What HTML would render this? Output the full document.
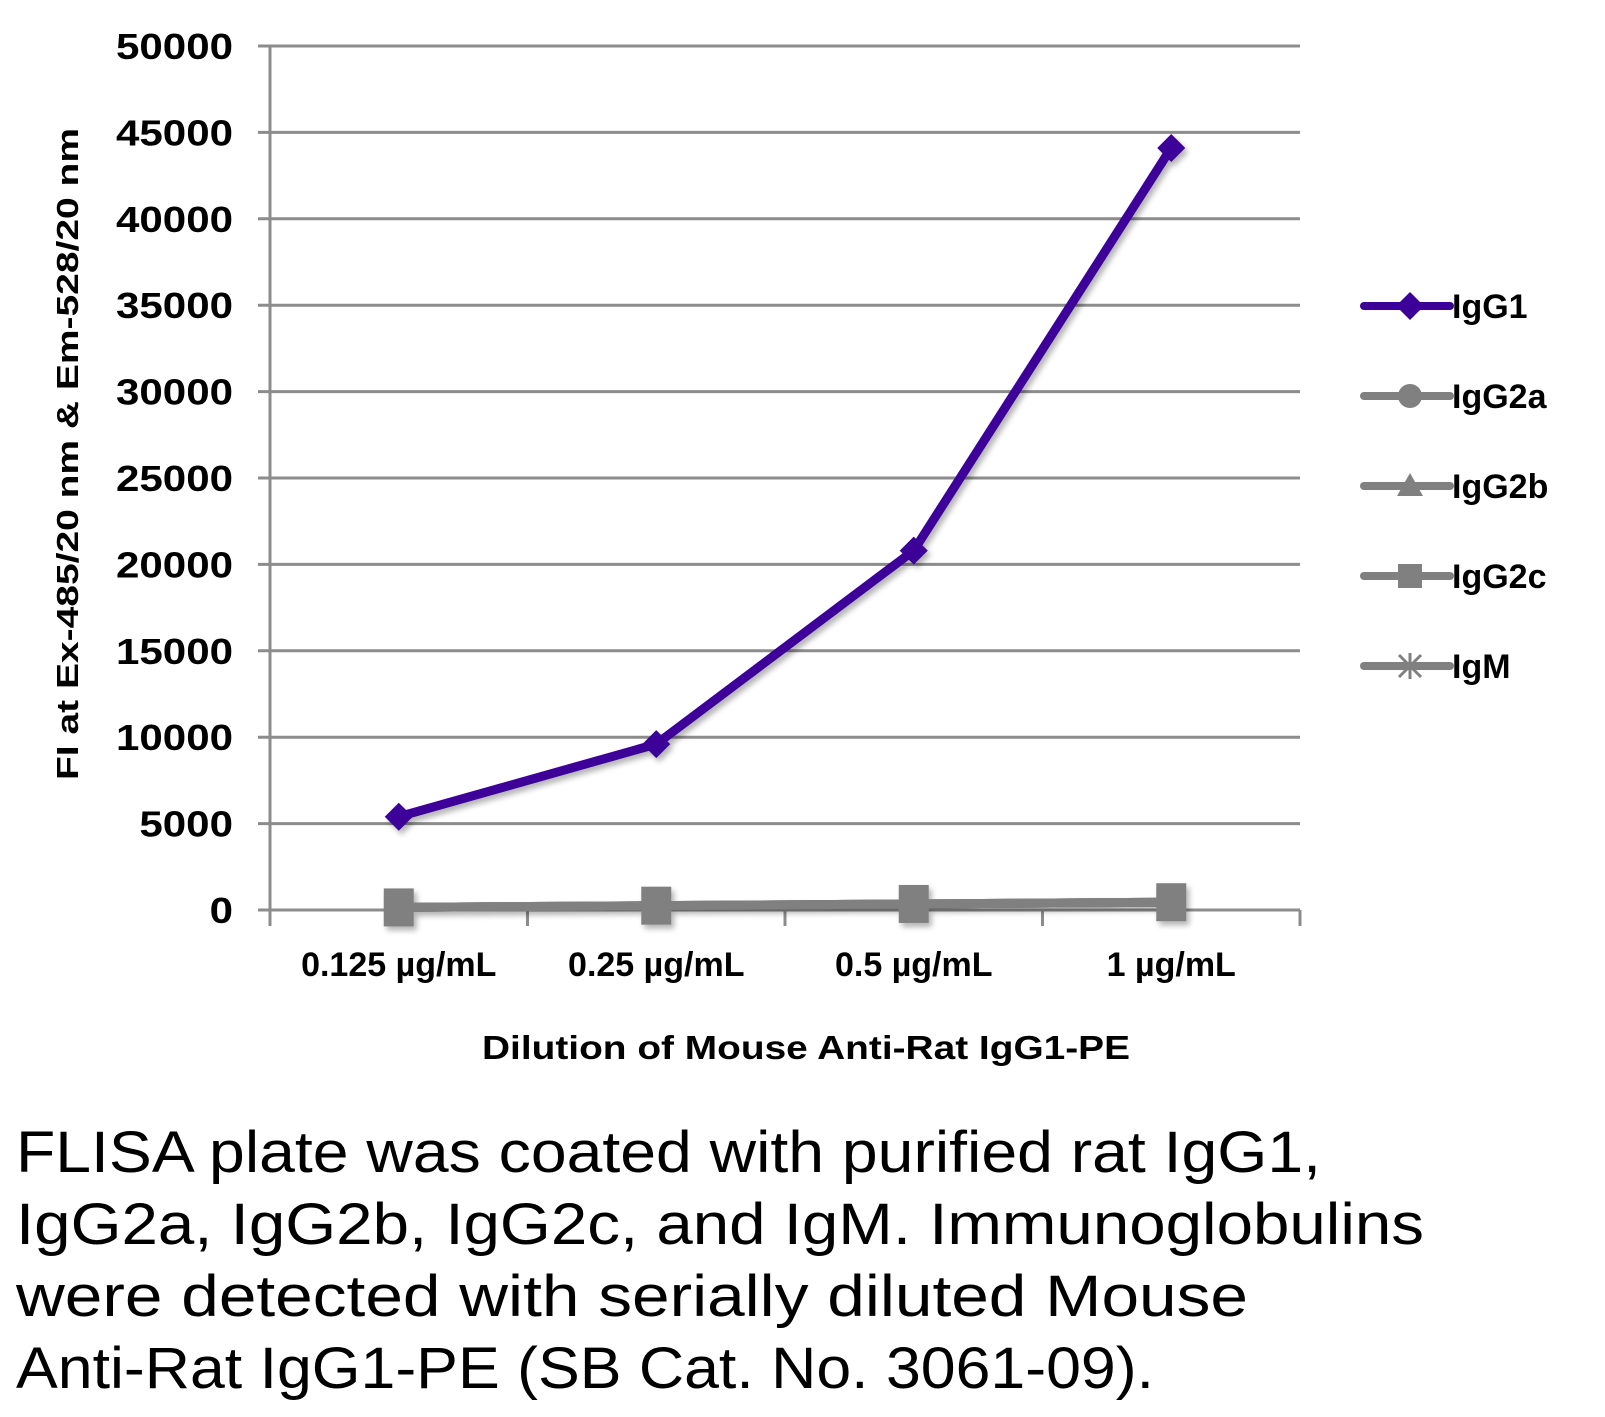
<!DOCTYPE html>
<html><head><meta charset="utf-8"><style>
html,body{margin:0;padding:0;background:#fff;}
svg{display:block;font-family:"Liberation Sans",sans-serif;}
</style></head><body>
<svg id="chart" width="1605" height="1417" viewBox="0 0 1605 1417" xmlns="http://www.w3.org/2000/svg">
<defs><filter id="sh" x="-50%" y="-50%" width="200%" height="200%"><feGaussianBlur in="SourceAlpha" stdDeviation="3"/><feOffset dx="3" dy="4"/><feComponentTransfer><feFuncA type="linear" slope="0.3"/></feComponentTransfer><feMerge><feMergeNode/><feMergeNode in="SourceGraphic"/></feMerge></filter></defs>
<g id="grid"></g>
<g id="axes"></g>
<g id="series"></g>
<g id="legend"></g>
<text transform="translate(78,454) rotate(-90)" text-anchor="middle" font-weight="bold" font-size="31" textLength="652" lengthAdjust="spacingAndGlyphs">FI at Ex-485/20 nm &amp; Em-528/20 nm</text>
<text x="806" y="1059" text-anchor="middle" font-weight="bold" font-size="33" textLength="648" lengthAdjust="spacingAndGlyphs">Dilution of Mouse Anti-Rat IgG1-PE</text>
<g font-size="58">
<text x="16" y="1172" textLength="1305" lengthAdjust="spacingAndGlyphs">FLISA plate was coated with purified rat IgG1,</text>
<text x="16" y="1244" textLength="1408" lengthAdjust="spacingAndGlyphs">IgG2a, IgG2b, IgG2c, and IgM.  Immunoglobulins</text>
<text x="16" y="1316" textLength="1232" lengthAdjust="spacingAndGlyphs">were detected with serially diluted Mouse</text>
<text x="16" y="1388" textLength="1138" lengthAdjust="spacingAndGlyphs">Anti-Rat IgG1-PE (SB Cat. No. 3061-09).</text>
</g>
</svg>
<script>
const categories=["0.125 µg/mL","0.25 µg/mL","0.5 µg/mL","1 µg/mL"];
const yTicks=[0,5000,10000,15000,20000,25000,30000,35000,40000,45000,50000];
const igg1=[5400,9600,20800,44100];
const igg2a=[150,250,350,450];
const igg2b=[150,250,350,450];
const igg2c=[150,250,350,450];
const igm=[150,250,350,450];
const legendNames=["IgG1","IgG2a","IgG2b","IgG2c","IgM"];

const NS="http://www.w3.org/2000/svg";
const X0=270,X1=1300,Y0=910,Y1=46;
const yS=v=>Y0-(v/50000)*(Y0-Y1);
const bw=(X1-X0)/categories.length;
const xS=i=>X0+bw*(i+0.5);
function mk(tag,attrs,parent){const e=document.createElementNS(NS,tag);for(const k in attrs)e.setAttribute(k,attrs[k]);parent.appendChild(e);return e;}
const grid=document.getElementById('grid'),axes=document.getElementById('axes'),ser=document.getElementById('series'),leg=document.getElementById('legend');
yTicks.forEach(v=>{
  const l=mk('line',{x1:X0-12,x2:X1,y1:yS(v),y2:yS(v),stroke:'#8c8c8c','stroke-width':3},grid);
  
  
  const s=String(v);
  const t=mk('text',{x:233,y:yS(v)+13,'text-anchor':'end','font-weight':'bold','font-size':36,textLength:s.length*23.4,lengthAdjust:'spacingAndGlyphs'},axes);
  t.textContent=s;
  
  
});
const ax=mk('line',{x1:X0,x2:X0,y1:Y1,y2:Y0+14,stroke:'#8c8c8c','stroke-width':3},axes);


for(let i=0;i<=categories.length;i++){
  const tk=mk('line',{x1:X0+bw*i,x2:X0+bw*i,y1:Y0,y2:Y0+16,stroke:'#8c8c8c','stroke-width':3},axes);
  
  
}
categories.forEach((c,i)=>{
  const t=mk('text',{x:xS(i),y:976,'text-anchor':'middle','font-weight':'bold','font-size':34},axes);
  t.textContent=c;
  
  
});
const grey='#808080',purple='#3c0099';
function series(vals,color,marker,name,shadow){
  const g=mk('g',shadow?{filter:'url(#sh)'}:{},ser);
  
  
  mk('polyline',{points:vals.map((v,i)=>xS(i)+','+yS(v)).join(' '),fill:'none',stroke:color,'stroke-width':9,'stroke-linejoin':'round'},g);
  vals.forEach((v,i)=>{const m=drawMarker(marker,xS(i),yS(v),color,g);
    
    });
}
function drawMarker(type,x,y,c,p){
  if(type==='diamond')return mk('polygon',{points:`${x},${y-14} ${x+14},${y} ${x},${y+14} ${x-14},${y}`,fill:c},p);
  if(type==='circle')return mk('circle',{cx:x,cy:y,r:12,fill:c},p);
  if(type==='triangle')return mk('polygon',{points:`${x},${y-13} ${x+13},${y+10} ${x-13},${y+10}`,fill:c},p);
  if(type==='square')return mk('rect',{x:x-15,y:y-19,width:30,height:38,fill:c},p);
  const g=mk('g',{stroke:c,'stroke-width':3},p);
  mk('line',{x1:x-11,y1:y-11,x2:x+11,y2:y+11},g);mk('line',{x1:x-11,y1:y+11,x2:x+11,y2:y-11},g);mk('line',{x1:x,y1:y-13,x2:x,y2:y+13},g);
  return g;
}
series(igm,grey,'star','igm',false);
series(igg2b,grey,'triangle','igg2b',false);
series(igg2a,grey,'circle','igg2a',false);
series(igg2c,grey,'square','igg2c',true);
series(igg1,purple,'diamond','igg1',true);
const markers=['diamond','circle','triangle','square','star'];
legendNames.forEach((n,i)=>{
  const y=306+i*90,c=i===0?purple:grey;
  const g=mk('g',{},leg);
  
  
  mk('line',{x1:1364,x2:1450,y1:y,y2:y,stroke:c,'stroke-width':8,'stroke-linecap':'round'},g);
  const mm=drawMarker(markers[i],1410,y,c,g);
  if(markers[i]==='square'){mm.setAttribute('y',y-12);mm.setAttribute('height',24);mm.setAttribute('x',1398);mm.setAttribute('width',24);}
  const t=mk('text',{x:1452,y:y+12,'font-weight':'bold','font-size':34},g);
  t.textContent=n;
});
</script>
</body></html>
